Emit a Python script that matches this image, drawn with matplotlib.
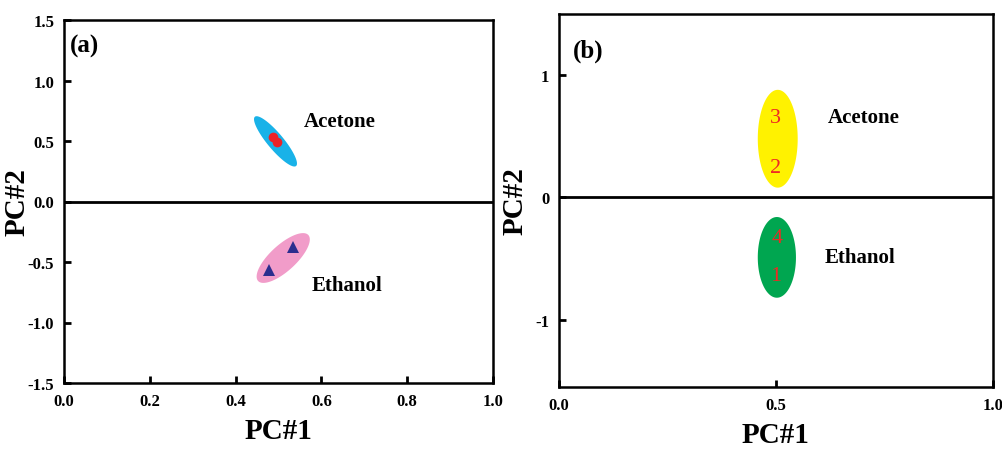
import numpy as np
import matplotlib
matplotlib.use("Agg")
import matplotlib.pyplot as plt

plt.rcParams['font.family'] = ['Liberation Serif', 'DejaVu Serif']
plt.rcParams['font.weight'] = 'bold'
plt.rcParams['axes.labelweight'] = 'bold'
plt.rcParams['axes.unicode_minus'] = False

# panel (a): sample scores
acetone_x = [0.487, 0.497]
acetone_y = [0.53, 0.49]
ethanol_x = [0.478, 0.534]
ethanol_y = [-0.57, -0.38]

# confidence ellipses for (a): centre, major half-axis, minor half-axis (data units)
ell_a_acetone = dict(c=(0.493, 0.497), u=(0.048, -0.2035), v=(0.0143, 0.0426))
ell_a_ethanol = dict(c=(0.511, -0.467), u=(0.0585, 0.19), v=(-0.0205, 0.079))

# panel (b): group ellipses (centre, half width, half height) and sample numbers
ell_b_acetone = dict(c=(0.504, 0.48), w=0.046, h=0.40)
ell_b_ethanol = dict(c=(0.502, -0.49), w=0.044, h=0.33)
sample_labels = ['3', '2', '4', '1']
sample_x = [0.498, 0.498, 0.502, 0.5]
sample_y = [0.65, 0.245, -0.33, -0.64]

t = np.linspace(0, 2 * np.pi, 200)


def ellipse_pts(c, u, v):
    x = c[0] + np.cos(t) * u[0] + np.sin(t) * v[0]
    y = c[1] + np.cos(t) * u[1] + np.sin(t) * v[1]
    return x, y


fig = plt.figure(figsize=(10.02, 4.52), dpi=100)
ax1 = fig.add_axes([64 / 1002, 1 - 384 / 452, 429 / 1002, 363 / 452])
ax2 = fig.add_axes([559 / 1002, 1 - 388 / 452, 434 / 1002, 373 / 452])

# ---- (a)
x, y = ellipse_pts(**ell_a_acetone)
ax1.fill(x, y, color='#19b2e8', lw=0)
x, y = ellipse_pts(**ell_a_ethanol)
ax1.fill(x, y, color='#f19cc9', lw=0)
ax1.plot(acetone_x, acetone_y, 'o', color='#ec2227', ms=7, mew=0)
ax1.plot(ethanol_x, ethanol_y, '^', color='#2b2d8e', ms=9, mew=0)
ax1.axhline(0, color='black', lw=2)
ax1.text(0.56, 0.665, 'Acetone', fontsize=15, va='center')
ax1.text(0.578, -0.69, 'Ethanol', fontsize=15, va='center')
ax1.text(0.014, 1.29, '(a)', fontsize=18, va='center')
ax1.set_xlim(0, 1)
ax1.set_ylim(-1.5, 1.5)
ax1.set_xticks([0.0, 0.2, 0.4, 0.6, 0.8, 1.0])
ax1.set_xticklabels(['0.0', '0.2', '0.4', '0.6', '0.8', '1.0'])
ax1.set_yticks([-1.5, -1.0, -0.5, 0.0, 0.5, 1.0, 1.5])
ax1.set_yticklabels(['-1.5', '-1.0', '-0.5', '0.0', '0.5', '1.0', '1.5'])

# ---- (b)
for e, col in [(ell_b_acetone, '#fff200'), (ell_b_ethanol, '#00a650')]:
    x, y = ellipse_pts(e['c'], (e['w'], 0), (0, e['h']))
    ax2.fill(x, y, color=col, lw=0)
for lab, sx, sy in zip(sample_labels, sample_x, sample_y):
    ax2.text(sx, sy, lab, color='#ee2a24', fontsize=16, fontweight='normal',
             ha='center', va='center')
ax2.axhline(0, color='black', lw=2)
ax2.text(0.62, 0.66, 'Acetone', fontsize=15, va='center')
ax2.text(0.613, -0.49, 'Ethanol', fontsize=15, va='center')
ax2.text(0.032, 1.2, '(b)', fontsize=18, va='center')
ax2.set_xlim(0, 1)
ax2.set_ylim(-1.55, 1.5)
ax2.set_xticks([0.0, 0.5, 1.0])
ax2.set_xticklabels(['0.0', '0.5', '1.0'])
ax2.set_yticks([-1, 0, 1])
ax2.set_yticklabels(['-1', '0', '1'])

for ax in (ax1, ax2):
    for s in ax.spines.values():
        s.set_linewidth(1.8)
    ax.tick_params(direction='in', length=5, width=2, labelsize=12, pad=7)
    ax.set_xlabel('PC#1', fontsize=21, labelpad=6)
    ax.set_ylabel('PC#2', fontsize=21)

ax1.yaxis.set_label_coords(-0.077, 0.5)
ax2.yaxis.set_label_coords(-0.071, 0.5)

fig.savefig('out.png', dpi=100)
